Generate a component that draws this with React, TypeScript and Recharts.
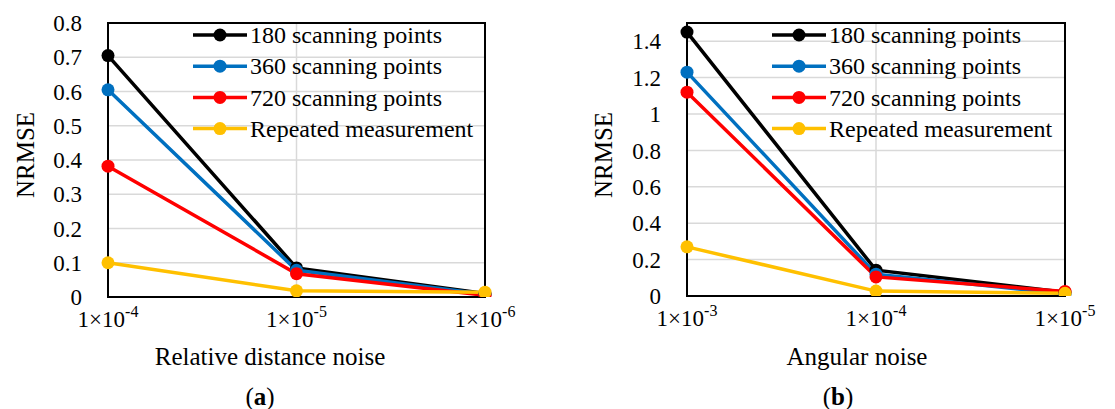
import { CartesianGrid, Legend, Line, LineChart, ReferenceArea, XAxis, YAxis } from "recharts";

const serif = "Liberation Serif";

// x categories (exponent after ^)
const distanceNoise = ["1×10^-4", "1×10^-5", "1×10^-6"];
const angularNoise = ["1×10^-3", "1×10^-4", "1×10^-5"];

const seriesNames = ["180 scanning points", "360 scanning points", "720 scanning points", "Repeated measurement"];
const seriesColors = ["#000000", "#0070C0", "#FF0000", "#FFC000"];

// (a) relative distance noise
const dist180 = [0.705, 0.085, 0.01];
const dist360 = [0.605, 0.078, 0.008];
const dist720 = [0.382, 0.068, 0.005];
const distRepeated = [0.1, 0.018, 0.014];
const distTicks = [0, 0.1, 0.2, 0.3, 0.4, 0.5, 0.6, 0.7, 0.8];

// (b) angular noise
const ang180 = [1.45, 0.142, 0.02];
const ang360 = [1.23, 0.12, 0.012];
const ang720 = [1.12, 0.105, 0.025];
const angRepeated = [0.27, 0.027, 0.015];
const angTicks = [0, 0.2, 0.4, 0.6, 0.8, 1, 1.2, 1.4];

const distData = distanceNoise.map((noise, i) => ({
  noise,
  s0: dist180[i],
  s1: dist360[i],
  s2: dist720[i],
  s3: distRepeated[i],
}));

const angData = angularNoise.map((noise, i) => ({
  noise,
  s0: ang180[i],
  s1: ang360[i],
  s2: ang720[i],
  s3: angRepeated[i],
}));

function PowerTick({ x, y, payload }: any) {
  const [base, exp] = String(payload.value).split("^");
  return (
    <text x={x} y={y + 28} textAnchor="middle" fill="#000" fontSize={23} style={{ fontFamily: serif }}>
      {base}
      <tspan dy={-10} fontSize={16}>
        {exp}
      </tspan>
    </text>
  );
}

function SeriesLegend({ payload }: any) {
  return (
    <svg width={300} height={130}>
      {(payload || []).map((entry: any, i: number) => {
        const cy = 17 + i * 31.2;
        return (
          <g key={entry.value}>
            <line x1={3} x2={57} y1={cy} y2={cy} stroke={entry.color} strokeWidth={3.5} />
            <circle cx={30} cy={cy} r={6.5} fill={entry.color} />
            <text x={60} y={cy} dy="0.34em" fontSize={24} style={{ fontFamily: serif }} fill="#000">
              {entry.value}
            </text>
          </g>
        );
      })}
    </svg>
  );
}

function NoisePanel({
  data,
  ticks,
  yMax,
  yAxisWidth,
  width,
  rightMargin,
  xAxisHeight,
  legendLeft,
}: {
  data: any[];
  ticks: number[];
  yMax: number;
  yAxisWidth: number;
  width: number;
  rightMargin: number;
  xAxisHeight: number;
  legendLeft: number;
}) {
  return (
    <LineChart
      width={width}
      height={409}
      data={data}
      margin={{ top: 23, right: rightMargin, bottom: 0, left: 0 }}
      style={{ fontFamily: serif }}
    >
      <CartesianGrid stroke="#d9d9d9" strokeWidth={1.5} />
      <XAxis
        dataKey="noise"
        height={xAxisHeight}
        padding={{ left: 0, right: 0 }}
        axisLine={{ stroke: "#000", strokeWidth: 2 }}
        tickLine={false}
        tickSize={0}
        tick={<PowerTick />}
        interval={0}
      />
      <YAxis
        width={yAxisWidth}
        domain={[0, yMax]}
        ticks={ticks}
        allowDataOverflow
        axisLine={{ stroke: "#000", strokeWidth: 2 }}
        tickLine={false}
        tickSize={0}
        tickMargin={26}
        tickFormatter={(v: number) => String(v)}
        tick={{ fill: "#000", fontSize: 23, fontFamily: serif }}
      />
      <ReferenceArea
        x1={data[0].noise}
        x2={data[data.length - 1].noise}
        y1={0}
        y2={yMax}
        fill="none"
        stroke="#000"
        strokeWidth={2}
      />
      {seriesNames.map((name, i) => (
        <Line
          key={name}
          type="linear"
          dataKey={`s${i}`}
          name={name}
          stroke={seriesColors[i]}
          strokeWidth={3.5}
          dot={{ r: 6.5, fill: seriesColors[i], stroke: seriesColors[i], strokeWidth: 0 }}
          activeDot={false}
          isAnimationActive={false}
        />
      ))}
      <Legend
        layout="horizontal"
        verticalAlign="middle"
        align="center"
        content={<SeriesLegend />}
        wrapperStyle={{ position: "absolute", top: 18, left: legendLeft, width: 300, height: 130 }}
      />
    </LineChart>
  );
}

const textStyle = {
  position: "absolute" as const,
  fontFamily: serif,
  color: "#000",
  whiteSpace: "nowrap" as const,
  lineHeight: 1,
};

export default function App() {
  return (
    <div
      style={{
        position: "fixed",
        left: 0,
        top: 0,
        width: 1115,
        height: 409,
        background: "#fff",
        overflow: "hidden",
        fontFamily: serif,
      }}
    >
      <div style={{ position: "absolute", left: 0, top: 0 }}>
        <NoisePanel
          data={distData}
          ticks={distTicks}
          yMax={0.8}
          yAxisWidth={108}
          width={560}
          rightMargin={75}
          xAxisHeight={112}
          legendLeft={190}
        />
      </div>
      <div style={{ position: "absolute", left: 560, top: 0 }}>
        <NoisePanel
          data={angData}
          ticks={angTicks}
          yMax={1.5}
          yAxisWidth={127}
          width={555}
          rightMargin={50}
          xAxisHeight={113}
          legendLeft={209}
        />
      </div>

      <div style={{ ...textStyle, left: 25, top: 155, fontSize: 25, transform: "translate(-50%, -50%) rotate(-90deg)" }}>
        NRMSE
      </div>
      <div style={{ ...textStyle, left: 603, top: 155, fontSize: 25, transform: "translate(-50%, -50%) rotate(-90deg)" }}>
        NRMSE
      </div>

      <div style={{ ...textStyle, left: 270, top: 356, fontSize: 25, transform: "translate(-50%, -50%)" }}>
        Relative distance noise
      </div>
      <div style={{ ...textStyle, left: 857, top: 356, fontSize: 25, transform: "translate(-50%, -50%)" }}>
        Angular noise
      </div>

      <div style={{ ...textStyle, left: 260, top: 396, fontSize: 25, transform: "translate(-50%, -50%)" }}>
        (<b>a</b>)
      </div>
      <div style={{ ...textStyle, left: 838, top: 396, fontSize: 25, transform: "translate(-50%, -50%)" }}>
        (<b>b</b>)
      </div>
    </div>
  );
}
